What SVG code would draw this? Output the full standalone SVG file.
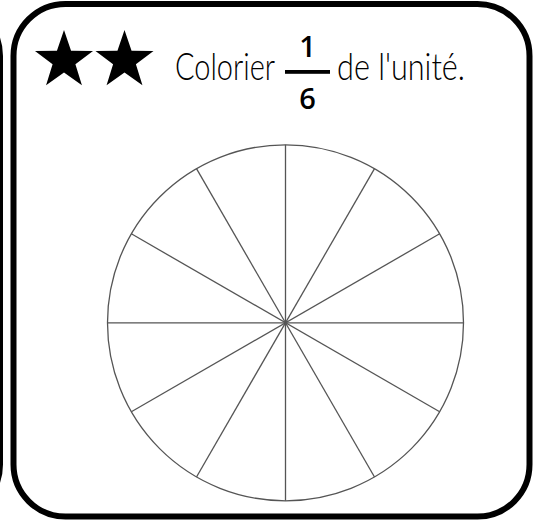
<svg xmlns="http://www.w3.org/2000/svg" width="534" height="521" viewBox="0 0 534 521">
<style>
.card{fill:none;stroke:#000;stroke-width:6}
.wheel{fill:none;stroke:#555;stroke-width:1.3}
.txt{font-family:Lato,"Open Sans","Liberation Sans",sans-serif;font-weight:300;font-size:38px;fill:#000}
.num{font-family:"Open Sans","Liberation Sans",sans-serif;font-weight:600;font-size:29px;fill:#000;text-anchor:middle}
</style>
<defs>
<path id="star" d="M0,-30.5 L7.05,-9.71 L29.01,-9.43 L11.41,3.71 L17.93,24.67 L0,12 L-17.93,24.67 L-11.41,3.71 L-29.01,-9.43 L-7.05,-9.71 Z" fill="#000"/>
</defs>
<rect width="534" height="521" fill="#fff"/>
<g id="prev-card"><rect class="card" x="-516" y="4" width="516" height="512.5" rx="52"/></g>
<g id="card"><rect class="card" x="13.5" y="4" width="516" height="512.5" rx="52"/></g>
<g id="stars">
<use href="#star" x="64" y="60.5"/>
<use href="#star" x="124.5" y="60.5"/>
</g>
<g id="title">
<text class="txt" transform="translate(175,80) scale(0.76,1)" x="0" y="0" textLength="131.6" lengthAdjust="spacingAndGlyphs">Colorier</text>
<text class="num" x="307.5" y="57">1</text>
<rect x="285" y="70" width="45" height="3.8" fill="#000"/>
<text class="num" x="307.5" y="108.5">6</text>
<text class="txt" transform="translate(337,80) scale(0.8,1)" x="0" y="0" textLength="160" lengthAdjust="spacingAndGlyphs">de l'unité.</text>
</g>
<g id="wheel" class="wheel">
<circle cx="285.5" cy="322.8" r="178"/>
<line x1="107.5" y1="322.8" x2="463.5" y2="322.8"/>
<line x1="285.5" y1="144.8" x2="285.5" y2="500.8"/>
<line x1="439.65" y1="233.8" x2="131.35" y2="411.8"/>
<line x1="374.5" y1="168.65" x2="196.5" y2="476.95"/>
<line x1="196.5" y1="168.65" x2="374.5" y2="476.95"/>
<line x1="131.35" y1="233.8" x2="439.65" y2="411.8"/>
</g>
</svg>
